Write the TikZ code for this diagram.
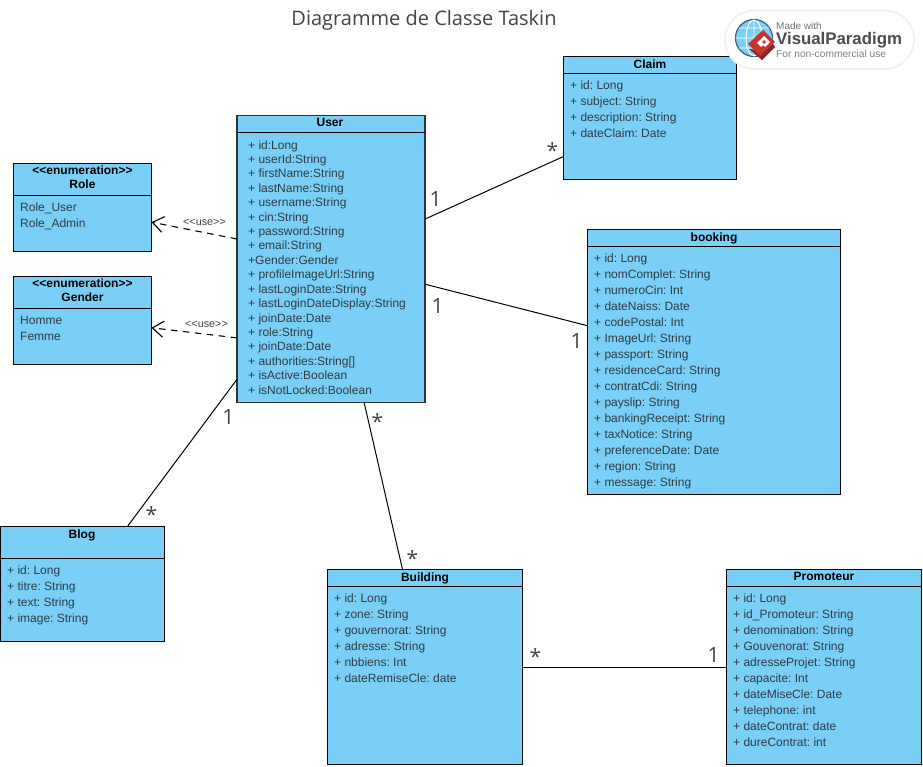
\documentclass[tikz,border=0pt]{standalone}
\usepackage{fontspec}
\setmainfont{Liberation Sans}
\newfontfamily\titlefont{Open Sans}
\usetikzlibrary{arrows.meta}
\definecolor{cfill}{HTML}{7ACFF7}
\definecolor{ctext}{HTML}{2F3B42}
\definecolor{clabel}{HTML}{444444}
\definecolor{vpred}{HTML}{C8342E}
\tikzset{
  classbox/.style={draw=black,line width=1pt,fill=cfill,rectangle,anchor=north west,inner sep=0pt,outer sep=0pt},
  classname/.style={anchor=north,inner sep=0pt,align=center,font=\fontsize{12}{14}\selectfont\bfseries\frenchspacing,text=black},
  attrs/.style={anchor=north west,inner sep=0pt,align=left,font=\fontsize{12}{16}\selectfont\frenchspacing,text=ctext,yshift=-0.8pt},
  attrsu/.style={anchor=north west,inner sep=0pt,align=left,font=\fontsize{12}{14.41}\selectfont\frenchspacing,text=ctext},
  divider/.style={draw=black,line width=1pt},
  assoc/.style={draw=black,line width=1pt},
  usedep/.style={draw=black,line width=1.1pt,dash pattern=on 6.5pt off 5.5pt,-{Straight Barb[length=11pt,width=16pt,line width=1.1pt]}},
  mult/.style={inner sep=0pt,font=\titlefont\fontsize{21}{21}\selectfont,text=clabel},
  stereo/.style={inner sep=0pt,font=\fontsize{10.8}{11}\selectfont,text=clabel},
}
\begin{document}
\begin{tikzpicture}[x=1pt,y=-1pt]
\useasboundingbox (0,0) rectangle (923,767);
\node[inner sep=0pt,font=\titlefont\fontsize{20}{20}\selectfont,text=clabel] (title) at (424,20) {Diagramme de Classe Taskin};

% Boxes
\node[classbox,draw=black!80,line width=1.2pt,minimum width=188pt,minimum height=287pt] (user) at (237,115.5) {};
\draw[divider] (237,132.5) -- (425,132.5);
\node[classname] (usern) at (330,118.5) {User};
\node[attrsu] (usera) at (248,138.8) {\strut + id:Long\\+ userId:String\\+ firstName:String\\+ lastName:String\\+ username:String\\+ cin:String\\+ password:String\\+ email:String\\+Gender:Gender\\+ profileImageUrl:String\\+ lastLoginDate:String\\+ lastLoginDateDisplay:String\\+ joinDate:Date\\+ role:String\\+ joinDate:Date\\+ authorities:String[]\\+ isActive:Boolean\\+ isNotLocked:Boolean};

\node[classbox,minimum width=138pt,minimum height=88pt] (role) at (13.5,163.5) {};
\draw[divider] (13.5,195.5) -- (151.5,195.5);
\node[classname] (rolen) at (82.5,166) {<{}<enumeration>{}>\\Role};
\node[attrs] (rolea) at (20,199.5) {\strut Role\_User\\Role\_Admin};

\node[classbox,minimum width=138pt,minimum height=88pt] (gender) at (13.5,276.5) {};
\draw[divider] (13.5,308.5) -- (151.5,308.5);
\node[classname] (gendern) at (82.5,279) {<{}<enumeration>{}>\\Gender};
\node[attrs] (gendera) at (20,312.5) {\strut Homme\\Femme};

\node[classbox,minimum width=173pt,minimum height=123pt] (claim) at (563.5,56.5) {};
\draw[divider] (563.5,74) -- (736.5,74);
\node[classname] (claimn) at (650,59.5) {Claim};
\node[attrs] (claima) at (570,77.5) {\strut + id: Long\\+ subject: String\\+ description: String\\+ dateClaim: Date};

\node[classbox,minimum width=253pt,minimum height=265pt] (booking) at (587.5,229.5) {};
\draw[divider] (587.5,246.5) -- (840.5,246.5);
\node[classname] (bookingn) at (714,232.5) {booking};
\node[attrs] (bookinga) at (594,250.5) {\strut + id: Long\\+ nomComplet: String\\+ numeroCin: Int\\+ dateNaiss: Date\\+ codePostal: Int\\+ ImageUrl: String\\+ passport: String\\+ residenceCard: String\\+ contratCdi: String\\+ payslip: String\\+ bankingReceipt: String\\+ taxNotice: String\\+ preferenceDate: Date\\+ region: String\\+ message: String};

\node[classbox,minimum width=164pt,minimum height=115pt] (blog) at (0.5,526.5) {};
\draw[divider] (0.5,558.5) -- (164.5,558.5);
\node[classname] (blogn) at (82,529.5) {Blog};
\node[attrs] (bloga) at (7,562.5) {\strut + id: Long\\+ titre: String\\+ text: String\\+ image: String};

\node[classbox,minimum width=195pt,minimum height=195pt] (building) at (327.5,569.5) {};
\draw[divider] (327.5,586.5) -- (522.5,586.5);
\node[classname] (buildingn) at (425,572.5) {Building};
\node[attrs] (buildinga) at (334,590.5) {\strut + id: Long\\+ zone: String\\+ gouvernorat: String\\+ adresse: String\\+ nbbiens: Int\\+ dateRemiseCle: date};

\node[classbox,minimum width=195pt,minimum height=195pt] (promoteur) at (726.5,569.5) {};
\draw[divider] (726.5,586.5) -- (921.5,586.5);
\node[classname] (promoteurn) at (824,572.5) {Promoteur};
\node[attrs] (promoteura) at (733,590.5) {\strut + id: Long\\+ id\_Promoteur: String\\+ denomination: String\\+ Gouvenorat: String\\+ adresseProjet: String\\+ capacite: Int\\+ dateMiseCle: Date\\+ telephone: int\\+ dateContrat: date\\+ dureContrat: int};

% Connectors
\draw[assoc] (user.23.8) -- (claim.204);
\draw[assoc] (user.-15.2) -- (booking.164.75);
\draw[assoc] (user.232.7) -- (blog.52.6);
\draw[assoc] (user.-77.05) -- (building.103);
\draw[assoc] (building.east) -- (promoteur.west);
\draw[usedep] (user.168.9) -- (role.-12.3);
\draw[usedep] (user.220.2) -- (gender.-6.6);

% Labels
\node[mult] (m1) at (435.5,199) {1};
\node[mult] (m2) at (552.5,151) {*};
\node[mult] (m3) at (437.5,306) {1};
\node[mult] (m4) at (576.5,341) {1};
\node[mult] (m5) at (228.5,417) {1};
\node[mult] (m6) at (151.5,515) {*};
\node[mult] (m7) at (377.5,422) {*};
\node[mult] (m8) at (412.5,559) {*};
\node[mult] (m9) at (535.5,657) {*};
\node[mult] (m10) at (713.5,655) {1};
\node[stereo] (s1) at (204.5,222) {<{}<use>{}>};
\node[stereo] (s2) at (206.5,324.5) {<{}<use>{}>};

% Logo
\fill[white,rounded corners=29pt,draw=black!6,line width=1.5pt] (725,10.5) rectangle (914,69);
\fill[cfill] (754,38) circle (18);
\draw[black!55!cfill,line width=1.2pt] (754,38) circle (18.5);
\draw[white,line width=0.9pt] (754,38) ellipse (8 and 18) (735.5,38) -- (772.5,38) (754,19.5) -- (754,56.5) (739,28) -- (769,28) (739,48) -- (769,48);
\fill[vpred!70!black] (749,49) -- (762,60) -- (775,47) -- (772,42) -- (758,50) -- cycle;
\fill[vpred] (748,44) -- (763,30) -- (775,42) -- (760,56) -- cycle;
\fill[white] (757,43) -- (764,36) -- (770,42) -- (765,47) -- (763,45) -- (761,47) -- cycle;
\fill[vpred] (762,42) -- (764,40) -- (766,42) -- (764,44) -- cycle;
\node[anchor=west,inner sep=0pt,font=\fontsize{10}{10}\selectfont,text=black!55] (vp1) at (776,26) {Made with};
\node[anchor=west,inner sep=0pt,font=\fontsize{16.8}{17}\selectfont\bfseries,text=black!70] (vp2) at (776,40) {VisualParadigm};
\node[anchor=west,inner sep=0pt,font=\fontsize{10.2}{10}\selectfont,text=black!50] (vp3) at (776,54) {For non-commercial use};
\end{tikzpicture}
\end{document}
